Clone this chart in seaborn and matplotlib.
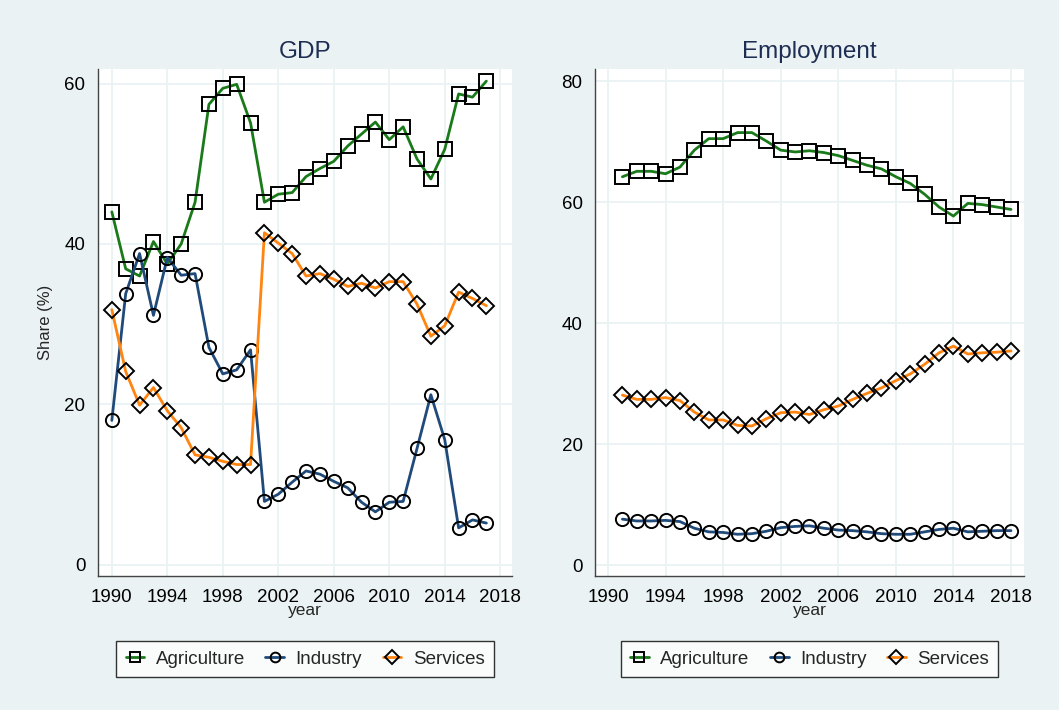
import numpy as np
import pandas as pd
import seaborn as sns
import matplotlib
matplotlib.use("Agg")
import matplotlib.pyplot as plt

# data
gdp_years = list(range(1990, 2018))
gdp_agri = [44.0, 36.9, 36.0, 40.3, 37.5, 40.0, 45.2, 57.4, 59.4, 59.9, 55.1, 45.2, 46.2, 46.4,
            48.4, 49.4, 50.3, 52.2, 53.7, 55.2, 53.0, 54.6, 50.6, 48.1, 51.8, 58.7, 58.3, 60.3]
gdp_ind = [18.0, 33.8, 38.8, 31.1, 38.3, 36.1, 36.3, 27.1, 23.8, 24.3, 26.8, 7.9, 8.8, 10.3,
           11.7, 11.3, 10.4, 9.6, 7.8, 6.6, 7.8, 7.9, 14.5, 21.2, 15.6, 4.6, 5.6, 5.2]
gdp_serv = [31.8, 24.1, 19.9, 22.1, 19.2, 17.1, 13.7, 13.4, 12.9, 12.5, 12.5, 41.4, 40.1, 38.8,
            36.0, 36.3, 35.6, 34.7, 35.1, 34.5, 35.3, 35.3, 32.5, 28.5, 29.8, 34.0, 33.2, 32.3]

emp_years = list(range(1991, 2019))
emp_agri = [64.2, 65.1, 65.1, 64.7, 65.8, 68.6, 70.5, 70.5, 71.5, 71.5, 70.1, 68.6, 68.3,
            68.5, 68.2, 67.7, 66.9, 66.1, 65.5, 64.2, 63.1, 61.3, 59.2, 57.7, 59.8, 59.6, 59.2, 58.8]
emp_ind = [7.6, 7.3, 7.3, 7.4, 7.2, 6.1, 5.5, 5.4, 5.1, 5.2, 5.6, 6.2, 6.4,
           6.5, 6.1, 5.8, 5.7, 5.5, 5.2, 5.1, 5.1, 5.5, 5.9, 6.1, 5.5, 5.6, 5.7, 5.7]
emp_serv = [28.1, 27.4, 27.4, 27.7, 27.2, 25.3, 24.0, 24.0, 23.1, 23.0, 24.2, 25.2, 25.3,
            24.9, 25.7, 26.3, 27.4, 28.4, 29.3, 30.5, 31.6, 33.2, 35.1, 36.2, 34.9, 35.1, 35.2, 35.4]

sectors = ["Agriculture", "Industry", "Services"]
xticks = list(range(1990, 2019, 4))


def long_df(years, agri, ind, serv):
    frames = []
    for name, vals in zip(sectors, [agri, ind, serv]):
        frames.append(pd.DataFrame({"year": years, "share": vals, "sector": name}))
    return pd.concat(frames, ignore_index=True)


gdp = long_df(gdp_years, gdp_agri, gdp_ind, gdp_serv)
emp = long_df(emp_years, emp_agri, emp_ind, emp_serv)

bg = "#EAF2F3"
navy = "#1E2D53"
palette = {"Agriculture": "#1A7A1A", "Industry": "#1F4A7A", "Services": "#FF8410"}
markers = {"Agriculture": "s", "Industry": "o", "Services": "D"}

sns.set_style("white")
plt.rcParams["font.family"] = ["Liberation Sans", "DejaVu Sans"]

fig = plt.figure(figsize=(10.59, 7.1), dpi=100, facecolor=bg)
ax1 = fig.add_axes([0.0925, 0.1887, 0.391, 0.714])
ax2 = fig.add_axes([0.5619, 0.1887, 0.405, 0.714])

panels = [(ax1, gdp, "GDP", (1989.0, 2018.85), (-1.4, 61.8), [0, 20, 40, 60]),
          (ax2, emp, "Employment", (1989.1, 2018.9), (-1.8, 82.0), [0, 20, 40, 60, 80])]

for ax, df, title, xlim, ylim, yticks in panels:
    sns.lineplot(data=df, x="year", y="share", hue="sector", style="sector",
                 palette=palette, markers=markers, dashes=False, legend=False,
                 linewidth=2.0, markersize=9.5, markerfacecolor="none",
                 markeredgecolor="black", markeredgewidth=1.4, ax=ax)
    for ln in ax.lines:
        if ln.get_marker() == "D":
            ln.set_markersize(8.5)
    ax.set_facecolor("white")
    ax.set_xlim(*xlim)
    ax.set_ylim(*ylim)
    ax.set_xticks(xticks)
    ax.set_yticks(yticks)
    ax.grid(True, color=bg, linewidth=1.3)
    ax.set_axisbelow(True)
    for s in ["top", "right"]:
        ax.spines[s].set_visible(False)
    for s in ["left", "bottom"]:
        ax.spines[s].set_color("#444444")
        ax.spines[s].set_linewidth(1.0)
    ax.tick_params(axis="both", direction="out", length=6, width=1.0,
                   color="#444444", labelsize=13.5, labelcolor="black", pad=3)
    ax.set_title(title, fontsize=17.5, color=navy, pad=8)
    ax.set_xlabel("year", fontsize=12.5, labelpad=-2)
    ax.set_ylabel("")
    handles = ax.lines[:3]
    leg = ax.legend(handles, sectors, loc="upper center", bbox_to_anchor=(0.5, -0.11),
                    ncol=3, frameon=True, fancybox=False, edgecolor="black",
                    fontsize=13.5, handlelength=1.0, handletextpad=0.6,
                    columnspacing=1.1, borderpad=0.5)
    leg.get_frame().set_linewidth(1.0)
    for h in leg.legend_handles:
        h.set_markersize(7)

ax1.set_ylabel("Share (%)", fontsize=12, labelpad=8)

fig.savefig("out.png", dpi=100, facecolor=bg)
